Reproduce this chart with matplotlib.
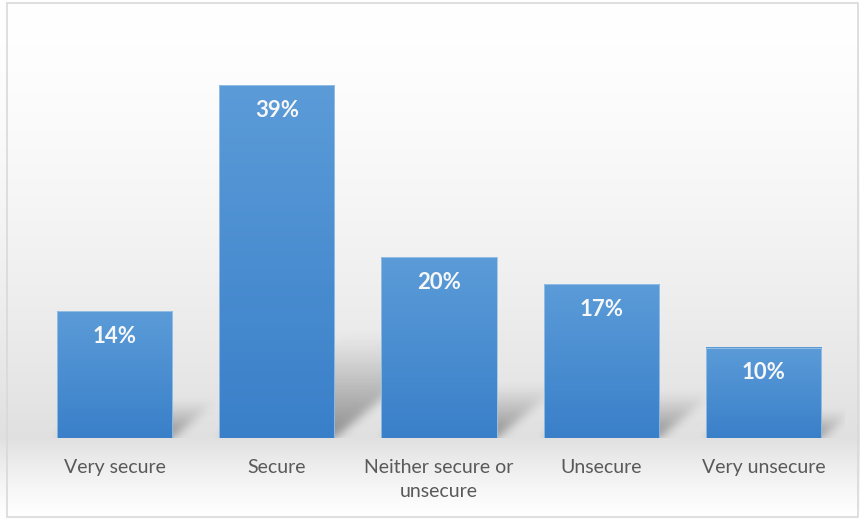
import numpy as np
import matplotlib.pyplot as plt
from matplotlib.patches import Rectangle
from matplotlib.colors import LinearSegmentedColormap

categories = ["Very secure", "Secure", "Neither secure or\nunsecure", "Unsecure", "Very unsecure"]
shares = [14, 39, 20, 17, 10]
labels = ["14%", "39%", "20%", "17%", "10%"]

plt.rcParams['font.family'] = ['Lato', 'DejaVu Sans']

fig = plt.figure(figsize=(8.6, 5.2), dpi=100)

# figure background: white at the top, grey near the bar floor, white again below
bg = fig.add_axes([0, 0, 1, 1], zorder=0)
yy = np.linspace(0, 1, 300)
floor = 1 - 438 / 520
above = 1 - 0.12 * ((1 - yy) / (1 - floor)) ** 1.5
below = 1 - 0.12 * (yy / floor) ** 1.3
shade = np.clip(np.where(yy > floor, above, below), 0.86, 1.0)
img = np.stack([shade, shade, shade], axis=-1)[:, None, :].repeat(2, axis=1)
bg.imshow(img, origin='lower', extent=[0, 1, 0, 1], aspect='auto')
bg.set_xlim(0, 1)
bg.set_ylim(0, 1)
bg.axis('off')
bg.add_patch(Rectangle((7 / 860, 3 / 520), 851 / 860, 514 / 520, fill=False,
                       edgecolor='#d9d9d9', linewidth=1.2))

ax_w, ax_h = 811, 407
ymax = 45
ax = fig.add_axes([33.5 / 860, (520 - 438) / 520, ax_w / 860, ax_h / 520], zorder=1)
ax.patch.set_alpha(0)

w = 0.355
px_x = ax_w / 5.0      # pixels per category
px_y = ax_h / ymax     # pixels per percent

# perspective shadows: each bar squashed and sheared to the right, blurred
sh_h = 150
gx = np.arange(ax_w)[None, :] + 0.5
gy = np.arange(sh_h)[:, None] + 0.5
alpha = np.zeros((sh_h, ax_w))
for i, v in enumerate(shares):
    hs = 0.3 * v * px_y
    xl = (i - w + 0.5) * px_x
    xr = (i + w + 0.5) * px_x
    xs = gx - 1.2 * gy
    inside = (gy <= hs) & (xs >= xl) & (xs <= xr)
    a = np.where(inside, 0.45 * np.clip(1 - gy / hs, 0, 1) ** 1.1, 0)
    alpha = np.maximum(alpha, a)
kern = np.exp(-0.5 * (np.arange(-12, 13) / 4.5) ** 2)
kern /= kern.sum()
alpha = np.apply_along_axis(lambda r: np.convolve(r, kern, mode='same'), 1, alpha)
alpha = np.apply_along_axis(lambda c: np.convolve(c, kern, mode='same'), 0, alpha)
shadow = np.zeros((sh_h, ax_w, 4))
shadow[..., :3] = 0.15
shadow[..., 3] = alpha
ax.imshow(shadow, extent=[-0.5, 4.5, 0, sh_h / px_y], origin='lower',
          aspect='auto', zorder=1, interpolation='bilinear')

bar_cmap = LinearSegmentedColormap.from_list('blu', ['#3a80c9', '#5b9bd8'])
grad = np.linspace(0, 1, 100)[:, None]
for i, v in enumerate(shares):
    x0, x1 = i - w, i + w
    ax.imshow(bar_cmap(grad), extent=[x0, x1, 0, v], origin='lower', aspect='auto', zorder=2)
    ax.add_patch(Rectangle((x0, 0), 2 * w, v, fill=False, edgecolor='#9dc3e6',
                           linewidth=0.6, zorder=3))
    ax.text(i, v - 2.8, labels[i], ha='center', va='center', color='#f7f7f7',
            fontsize=16, fontweight='bold', zorder=4)

ax.set_xlim(-0.5, 4.5)
ax.set_ylim(0, ymax)
ax.set_xticks(range(len(categories)))
ax.set_xticklabels(categories, fontsize=14, color='#595959', linespacing=1.5, va='top')
ax.tick_params(axis='x', length=0, pad=15)
ax.set_yticks([])
for sp in ax.spines.values():
    sp.set_visible(False)

fig.savefig('out.png', dpi=100)
